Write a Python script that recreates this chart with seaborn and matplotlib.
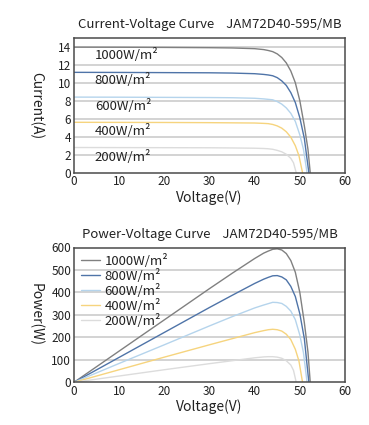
import matplotlib
matplotlib.use("Agg")
import matplotlib.pyplot as plt
import seaborn as sns
import pandas as pd

sns.set_style("white")
plt.rcParams['font.family'] = ['Noto Sans CJK SC', 'DejaVu Sans']

labels = ["1000W/m²", "800W/m²", "600W/m²", "400W/m²", "200W/m²"]
colors = ["#808080", "#4f74a8", "#b5d4ec", "#f6d47e", "#dcdcdc"]

# I-V and P-V data
v_1000 = [0, 10, 20, 30, 35, 40, 42, 43, 44, 45, 46, 47, 48, 49, 50, 51, 51.8, 52.3]
i_1000 = [13.95, 13.94, 13.92, 13.89, 13.86, 13.78, 13.68, 13.58, 13.45, 13.2, 12.8, 12.2, 11.3, 10.0, 8.0, 5.2, 2.6, 0]
p_1000 = [0, 139, 278, 417, 485, 551, 575, 584, 592, 594, 589, 573, 542, 490, 400, 265, 135, 0]

v_800 = [0, 10, 20, 30, 35, 40, 42, 43, 44, 45, 46, 47, 48, 49, 50, 51, 51.6, 52.0]
i_800 = [11.15, 11.14, 11.12, 11.10, 11.07, 11.0, 10.92, 10.86, 10.77, 10.56, 10.2, 9.7, 8.9, 7.8, 6.1, 3.8, 1.5, 0]
p_800 = [0, 111, 222, 333, 387, 440, 459, 467, 474, 475, 469, 456, 427, 382, 305, 194, 77, 0]

v_600 = [0, 10, 20, 30, 35, 40, 42, 43, 44, 45, 46, 47, 48, 49, 50, 50.8, 51.6]
i_600 = [8.40, 8.39, 8.37, 8.35, 8.33, 8.27, 8.20, 8.15, 8.10, 7.90, 7.62, 7.2, 6.6, 5.7, 4.2, 2.6, 0]
p_600 = [0, 84, 167, 251, 292, 331, 344, 350, 356, 355, 351, 338, 317, 279, 210, 132, 0]

v_400 = [0, 10, 20, 30, 35, 40, 42, 43, 44, 45, 46, 47, 48, 49, 49.8, 50.6]
i_400 = [5.60, 5.59, 5.58, 5.56, 5.54, 5.52, 5.48, 5.45, 5.36, 5.2, 4.95, 4.55, 3.95, 3.0, 1.9, 0]
p_400 = [0, 56, 112, 167, 194, 221, 230, 234, 236, 234, 228, 214, 190, 147, 95, 0]

v_200 = [0, 10, 20, 30, 35, 40, 42, 43, 44, 45, 46, 47, 48, 48.6, 49.2]
i_200 = [2.80, 2.79, 2.78, 2.77, 2.75, 2.72, 2.69, 2.66, 2.60, 2.48, 2.32, 2.05, 1.6, 1.1, 0]
p_200 = [0, 28, 56, 83, 96, 109, 113, 114, 114, 112, 107, 96, 77, 53, 0]

series = [(v_1000, i_1000, p_1000), (v_800, i_800, p_800), (v_600, i_600, p_600),
          (v_400, i_400, p_400), (v_200, i_200, p_200)]

rows = []
for lab, (v, i, p) in zip(labels, series):
    for vv, ii, pp in zip(v, i, p):
        rows.append({"irr": lab, "V": vv, "I": ii, "P": pp})
df = pd.DataFrame(rows)

W, H = 369, 425
fig = plt.figure(figsize=(W / 100, H / 100), dpi=100)
ax1 = fig.add_axes([74 / W, 1 - 172.7 / H, 271 / W, 135 / H])
ax2 = fig.add_axes([74 / W, 1 - 382.3 / H, 271 / W, 134.8 / H])

pal = dict(zip(labels, colors))
sns.lineplot(data=df, x="V", y="I", hue="irr", palette=pal, sort=False,
             estimator=None, lw=1.0, ax=ax1, legend=False)
sns.lineplot(data=df, x="V", y="P", hue="irr", palette=pal, sort=False,
             estimator=None, lw=1.0, ax=ax2, legend=True)

tick_fs = 8.5
for ax in (ax1, ax2):
    ax.set_xlim(0, 60)
    ax.set_xticks([0, 10, 20, 30, 40, 50, 60])
    ax.tick_params(axis='x', direction='in', length=3, width=0.8, color='#444444',
                   labelsize=tick_fs, pad=2, labelcolor='#222222')
    ax.tick_params(axis='y', length=0, labelsize=tick_fs, pad=2, labelcolor='#222222')
    for s in ax.spines.values():
        s.set_color('#4a4a4a')
        s.set_linewidth(1.1)
        s.set_visible(True)
    ax.set_xlabel("Voltage(V)", fontsize=10, labelpad=1, color='#222222')
    ax.grid(False)

ax1.set_ylim(0, 15)
ax1.set_yticks([0, 2, 4, 6, 8, 10, 12, 14])
for yv in [2, 4, 6, 8, 10, 12, 14]:
    ax1.axhline(yv, color='#c8c8c8', lw=1.1, zorder=0)
ax1.set_ylabel("Current(A)", fontsize=10, rotation=-90, va='center', ha='center', color='#222222')
ax1.yaxis.set_label_coords(-0.14, 0.5)
ax1.set_title("Current-Voltage Curve    JAM72D40-595/MB", fontsize=9.5, pad=7, color='#222222')

label_y = [13.1, 10.3, 7.4, 4.6, 1.7]
for lab, yy in zip(labels, label_y):
    ax1.text(4.6, yy, lab, fontsize=9.5, va='center', ha='left', color='#222222')

ax2.set_ylim(0, 600)
ax2.set_yticks([0, 100, 200, 300, 400, 500, 600])
for yv in [100, 200, 300, 400, 500]:
    ax2.axhline(yv, color='#c8c8c8', lw=1.1, zorder=0)
ax2.set_ylabel("Power(W)", fontsize=10, rotation=-90, va='center', ha='center', color='#222222')
ax2.yaxis.set_label_coords(-0.14, 0.5)
ax2.set_title("Power-Voltage Curve    JAM72D40-595/MB", fontsize=9.5, pad=7, color='#222222')

leg = ax2.legend(loc='upper left', bbox_to_anchor=(0.025, 0.955), frameon=False,
                 fontsize=9.5, handlelength=1.45, handletextpad=0.35,
                 labelspacing=0.08, borderpad=0, borderaxespad=0, title=None)
for t in leg.get_texts():
    t.set_color('#222222')

fig.savefig("out.png", dpi=100)
